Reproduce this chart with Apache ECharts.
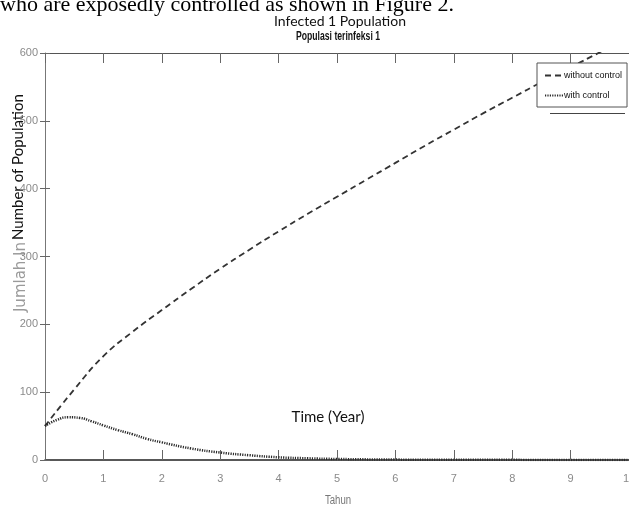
<!DOCTYPE html>
<html>
<head>
<meta charset="utf-8">
<script src="https://cdn.jsdelivr.net/npm/echarts@6/dist/echarts.min.js"></script>
<style>
html,body{margin:0;padding:0;background:#fff;}
#chart{width:629px;height:509px;}
</style>
</head>
<body>
<div id="chart"></div>
<script>
// ---- data ----
const tWithout = [0,0.5,1,1.5,2,2.5,3,3.5,4,4.5,5,5.5,6,6.5,7,7.5,8,8.5,9,9.5,10];
const withoutControl = [50,104,153,189,221,252,282,310,337,363,388,413,438,463,487,511,534,557,579,601,623];
const tWith = [0,0.2,0.4,0.6,0.8,1,1.25,1.5,1.75,2,2.5,3,3.5,4,4.5,5,6,7,8,9,10];
const withControl = [50,59,63,62,57,51,44,38,31,26,17,11,7,4,2.5,1.5,0.6,0.3,0.2,0.1,0];
const xTicks = {min:0, max:10, interval:1};
const yTicks = {min:0, max:600, interval:100};
const seriesNames = ['without control','with control'];

const pairs = (xs, ys) => xs.map((x, i) => [x, ys[i]]);

const chart = echarts.init(document.getElementById('chart'));
const sans = '"Liberation Sans", Arial, sans-serif';

chart.setOption({
  animation: false,
  backgroundColor: '#fff',
  grid: {left: 45, right: 0, top: 53, bottom: 49, containLabel: false, outerBoundsMode: 'none'},
  xAxis: [{
    type: 'value', min: xTicks.min, max: xTicks.max, interval: xTicks.interval,
    position: 'bottom',
    axisLine: {show: true, onZero: false, lineStyle: {color: '#222', width: 1.5}},
    axisTick: {show: true, inside: true, length: 10, lineStyle: {color: '#666'}},
    axisLabel: {color: '#8a8a8a', fontFamily: sans, fontSize: 11, margin: 13},
    splitLine: {show: false}
  }, {
    type: 'value', min: xTicks.min, max: xTicks.max, interval: xTicks.interval,
    position: 'top',
    axisLine: {show: true, onZero: false, lineStyle: {color: '#555', width: 1}},
    axisTick: {show: true, inside: true, length: 10, lineStyle: {color: '#666'}},
    axisLabel: {show: false},
    splitLine: {show: false}
  }],
  yAxis: [{
    type: 'value', min: yTicks.min, max: yTicks.max, interval: yTicks.interval,
    position: 'left',
    axisLine: {show: true, onZero: false, lineStyle: {color: '#777', width: 1}},
    axisTick: {show: true, inside: true, length: 5, lineStyle: {color: '#666'}},
    axisLabel: {color: '#8a8a8a', fontFamily: sans, fontSize: 11, margin: 7},
    splitLine: {show: false}
  }, {
    type: 'value', min: yTicks.min, max: yTicks.max, interval: yTicks.interval,
    position: 'right',
    axisLine: {show: false},
    axisTick: {show: true, inside: true, length: 5, lineStyle: {color: '#666'}},
    axisLabel: {show: false},
    splitLine: {show: false}
  }],
  legend: {
    orient: 'vertical', left: 537, top: 63,
    padding: [8, 5, 7, 7], itemGap: 11, itemWidth: 18, itemHeight: 10,
    borderColor: '#555', borderWidth: 1, backgroundColor: '#fff',
    itemStyle: {opacity: 0, borderWidth: 0},
    textStyle: {fontFamily: sans, fontSize: 9, color: '#111', padding: [0,0,0,-4]},
    data: seriesNames
  },
  series: [{
    name: seriesNames[0], type: 'line', smooth: true, showSymbol: false, symbol: 'none',
    data: pairs(tWithout, withoutControl), clip: true, color: '#333',
    lineStyle: {color: '#333', width: 1.8, type: [6, 4]}
  }, {
    name: seriesNames[1], type: 'line', smooth: true, showSymbol: false, symbol: 'none',
    data: pairs(tWith, withControl), clip: true, color: '#2a2a2a',
    lineStyle: {color: '#2a2a2a', width: 2.5, type: [1.2, 1.2]}
  }],
  graphic: [
    {type: 'text', x: 0, y: 16, silent: true,
     style: {text: 'who are exposedly controlled as shown in Figure 2.', font: '22px "Liberation Serif"', fill: '#000', verticalAlign: 'bottom', align: 'left'}},
    {type: 'text', x: 340, y: 21, silent: true,
     style: {text: 'Infected 1 Population', font: '14px Lato', fill: '#111', align: 'center', verticalAlign: 'middle'}},
    {type: 'text', x: 338, y: 37, scaleX: 0.72, silent: true,
     style: {text: 'Populasi terinfeksi 1', font: 'bold 12px "Liberation Sans"', fill: '#111', align: 'center', verticalAlign: 'middle'}},
    {type: 'text', x: 18, y: 167, rotation: Math.PI / 2, silent: true,
     style: {text: 'Number of Population', font: '15px Lato', fill: '#111', align: 'center', verticalAlign: 'middle'}},
    {type: 'text', x: 21, y: 277, rotation: Math.PI / 2, silent: true,
     style: {text: 'Jumlah In', font: '15px "DejaVu Sans"', fill: '#9a9a9a', align: 'center', verticalAlign: 'middle'}},
    {type: 'text', x: 328, y: 417, silent: true,
     style: {text: 'Time (Year)', font: '15px Lato', fill: '#111', align: 'center', verticalAlign: 'middle'}},
    {type: 'text', x: 338, y: 501, scaleX: 0.8, silent: true,
     style: {text: 'Tahun', font: '12px "Liberation Sans"', fill: '#777', align: 'center', verticalAlign: 'middle'}},
    {type: 'line', silent: true, shape: {x1: 550, y1: 113.5, x2: 625, y2: 113.5}, style: {stroke: '#444', lineWidth: 1}}
  ]
});
</script>
</body>
</html>
